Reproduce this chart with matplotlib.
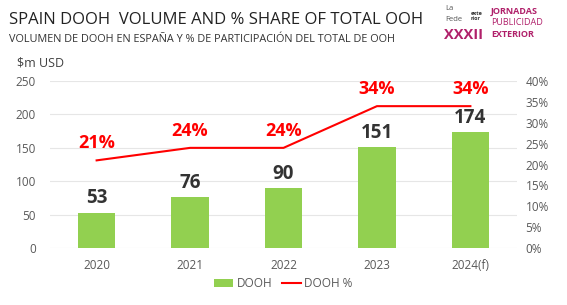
import numpy as np
import matplotlib
matplotlib.use("Agg")
import matplotlib.pyplot as plt

years = ["2020", "2021", "2022", "2023", "2024(f)"]
dooh_volume = [53, 76, 90, 151, 174]
dooh_share = [21, 24, 24, 34, 34]

plt.rcParams['font.family'] = ['Open Sans', 'DejaVu Sans']

fig = plt.figure(figsize=(5.67, 3.05), dpi=100)
ax = fig.add_axes([0.088, 0.187, 0.824, 0.547])
ax2 = ax.twinx()

x = np.arange(len(years))
bars = ax.bar(x, dooh_volume, width=0.4, color="#92D050", label="DOOH", zorder=2)
ax.set_ylim(0, 250)
ax.set_yticks(range(0, 251, 50))
ax.set_xlim(-0.5, len(years) - 0.5)
ax.set_xticks(x)
ax.set_xticklabels(years)
ax.grid(axis="y", color="#E6E6E6", linewidth=0.8, zorder=0)
ax.set_axisbelow(True)
for v, xi in zip(dooh_volume, x):
    ax.annotate(str(v), (xi, v), xytext=(0, 3), textcoords="offset points",
                ha="center", va="bottom", fontsize=13.5, fontweight="bold", color="#333333")

line, = ax2.plot(x, dooh_share, color="#FF0000", linewidth=1.5, label="DOOH %", zorder=3)
ax2.set_ylim(0, 40)
ax2.set_yticks(range(0, 41, 5))
ax2.set_yticklabels([f"{t}%" for t in range(0, 41, 5)])
for v, xi in zip(dooh_share, x):
    ax2.annotate(f"{v}%", (xi, v), xytext=(0, 6), textcoords="offset points",
                 ha="center", va="bottom", fontsize=13, fontweight="bold", color="#FF0000")

for a in (ax, ax2):
    for s in a.spines.values():
        s.set_visible(False)
    a.tick_params(length=0, labelsize=8.5, labelcolor="#595959")
ax.tick_params(axis="x", pad=8)
ax.tick_params(axis="y", pad=10)
ax2.tick_params(axis="y", pad=6)

fig.legend([bars, line], ["DOOH", "DOOH %"], loc="center", bbox_to_anchor=(0.5, 0.07),
           ncol=2, frameon=False, fontsize=8.5, labelcolor="#595959",
           handlelength=1.6, handletextpad=0.3, columnspacing=0.8)

fig.text(0.015, 0.935, "SPAIN DOOH  VOLUME AND % SHARE OF TOTAL OOH", fontsize=12,
         color="#222222", va="center", ha="left")
fig.text(0.015, 0.87, "VOLUMEN DE DOOH EN ESPAÑA Y % DE PARTICIPACIÓN DEL TOTAL DE OOH",
         fontsize=7.8, color="#333333", va="center", ha="left")
fig.text(0.03, 0.795, "$m USD", fontsize=9, color="#404040", va="center", ha="left")

# logo text
mag = "#B0206A"
fig.text(0.785, 0.972, "La", fontsize=5.5, color="#555555", va="center")
fig.text(0.785, 0.935, "Fede", fontsize=5.5, color="#555555", va="center")
fig.text(0.83, 0.948, "exte\nrior", fontsize=4, color="#333333", va="center",
         linespacing=0.9, fontweight="bold")
fig.text(0.783, 0.885, "XXXII", fontsize=10.5, color=mag, va="center", fontweight="bold")
fig.text(0.866, 0.962, "JORNADAS", fontsize=6.5, color=mag, va="center", fontweight="bold")
fig.text(0.866, 0.925, "PUBLICIDAD", fontsize=6.5, color=mag, va="center")
fig.text(0.866, 0.888, "EXTERIOR", fontsize=6.5, color=mag, va="center", fontweight="bold")

fig.savefig("out.png", dpi=100)
